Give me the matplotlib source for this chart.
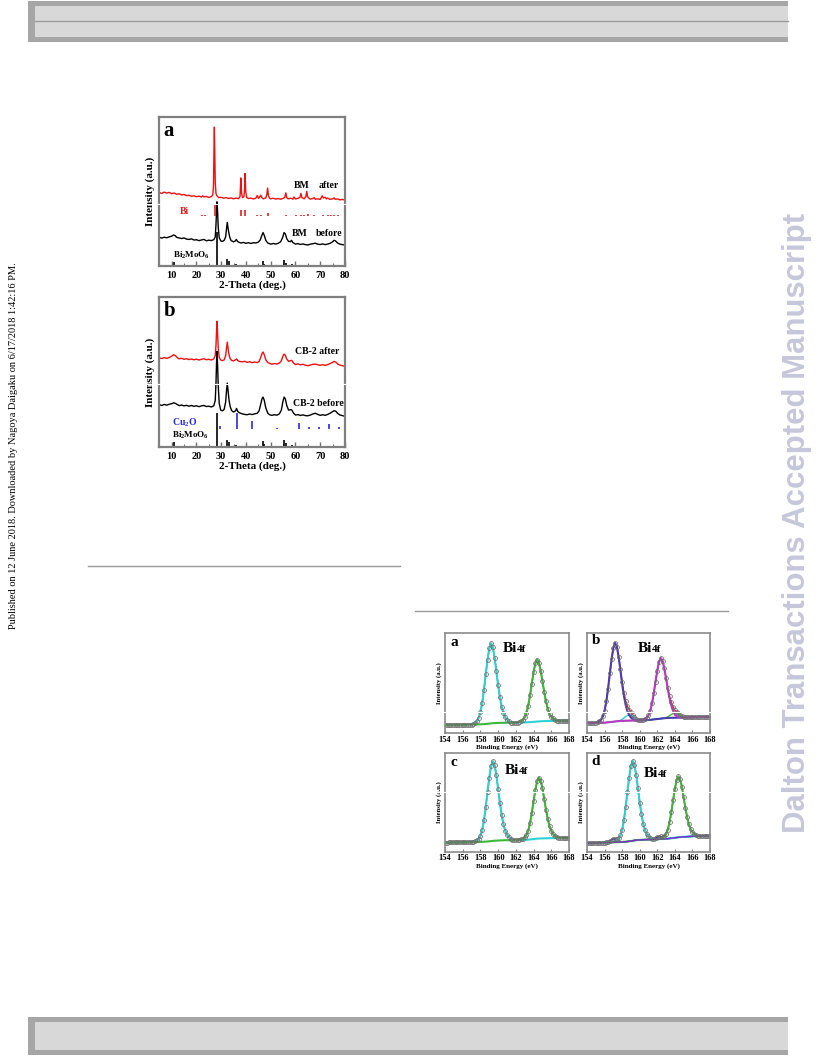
import numpy as np
import matplotlib
matplotlib.use("Agg")
import matplotlib.pyplot as plt
from matplotlib.patches import Rectangle

plt.rcParams['font.family'] = ['Liberation Serif', 'DejaVu Serif']
plt.rcParams['font.weight'] = 'bold'
plt.rcParams['axes.labelweight'] = 'bold'
plt.rcParams['mathtext.fontset'] = 'custom'
plt.rcParams['mathtext.rm'] = 'Liberation Serif:bold'
plt.rcParams['mathtext.it'] = 'Liberation Serif:bold'
plt.rcParams['mathtext.bf'] = 'Liberation Serif:bold'

W, H = 816, 1056

# ---------------- XRD data (arbitrary intensity units) ----------------
x_a_after = [5, 6, 7, 8, 9, 10, 11, 12, 13, 14,
             15, 16, 17, 18, 19, 20, 21, 22, 22.5, 23,
             24, 25, 26, 26.6, 26.9, 27.1, 27.25, 27.4, 27.6, 27.9,
             28.3, 29, 30, 31, 32, 33, 34, 35, 36, 37,
             37.6, 37.95, 38.2, 38.6, 39.2, 39.45, 39.65, 39.9, 40.3, 41,
             42, 43, 44, 44.6, 45.1, 46, 46.5, 47, 48, 48.4,
             48.75, 49.1, 49.6, 50, 51, 52, 53, 54, 55, 55.7,
             56.1, 56.5, 57, 58, 59, 59.4, 60, 61, 61.8, 62.2,
             62.6, 63.5, 64.2, 64.55, 64.9, 65.5, 66, 67, 67.6, 68,
             69, 70, 70.8, 71.3, 72, 72.5, 73, 74, 75, 75.6,
             76, 77, 78, 79, 80]
y_a_after = [49.2, 48.6, 49.5, 48.8, 49.3, 48.4, 48.9, 48.0, 48.4, 47.6,
             47.9, 47.1, 47.4, 46.7, 47.0, 46.4, 46.8, 46.2, 47.0, 46.3,
             46.6, 45.9, 46.5, 47.5, 54.0, 80.0, 93.0, 78.0, 56.0, 48.5,
             47.0, 45.8, 46.0, 45.4, 45.8, 45.2, 45.6, 45.0, 45.5, 45.1,
             46.5, 59.0, 49.0, 45.8, 46.5, 52.0, 62.0, 50.0, 45.9, 45.2,
             45.5, 44.9, 45.4, 47.2, 45.3, 47.4, 45.6, 45.0, 45.6, 47.5,
             52.2, 47.0, 45.3, 45.0, 45.4, 44.8, 45.2, 44.7, 45.3, 46.0,
             49.0, 45.8, 45.0, 45.4, 44.8, 46.2, 44.9, 45.3, 46.0, 48.6,
             45.8, 45.0, 46.5, 50.0, 46.4, 45.3, 44.8, 45.2, 45.8, 44.7,
             45.0, 44.6, 47.0, 45.6, 46.0, 45.0, 45.5, 44.6, 45.0, 45.6,
             44.7, 44.9, 44.3, 44.6, 44.1]

x_a_before = [5, 6, 7, 8, 9, 10, 10.8, 11.5, 12, 13,
              14, 15, 16, 17, 18, 19, 20, 21, 22, 23,
              24, 25, 26, 27, 27.6, 27.9, 28.15, 28.3, 28.5, 28.8,
              29.2, 29.8, 30.5, 31.2, 31.8, 32.15, 32.45, 32.75, 33.1, 33.5,
              34, 35, 35.7, 36.1, 36.6, 37, 38, 39, 40, 41,
              42, 43, 44, 45, 45.8, 46.4, 46.9, 47.4, 48, 48.8,
              49.5, 50, 51, 52, 53, 54, 54.8, 55.4, 55.9, 56.5,
              57.2, 58, 58.4, 59, 60, 61, 62, 63, 64, 65,
              66, 67, 68, 69, 70, 71, 72, 73, 74, 75,
              75.6, 76.2, 77, 78, 79, 80]
y_a_before = [19.2, 18.7, 19.3, 18.9, 19.5, 20.0, 20.8, 20.2, 19.2, 18.8,
              18.4, 18.8, 18.0, 17.8, 18.2, 17.4, 17.6, 17.0, 17.4, 17.8,
              16.9, 17.3, 17.0, 17.6, 19.5, 28.0, 38.0, 43.0, 38.0, 26.0,
              19.0, 16.8, 16.5, 17.2, 19.5, 25.0, 29.2, 25.5, 22.0, 19.0,
              17.0, 16.2, 16.8, 17.8, 16.4, 16.0, 15.4, 15.8, 15.2, 15.6,
              15.1, 15.6, 15.4, 16.0, 17.5, 20.5, 22.4, 20.5, 17.2, 15.4,
              15.0, 14.6, 15.1, 14.7, 15.2, 16.2, 19.0, 22.4, 21.5, 18.2,
              16.5, 16.3, 17.2, 15.6, 14.7, 15.0, 14.4, 14.8, 14.3, 14.1,
              14.6, 14.9, 15.3, 14.6, 14.4, 14.8, 14.3, 14.7, 15.2, 16.2,
              17.2, 16.8, 15.4, 14.6, 14.3, 14.0]

x_b = [5, 6, 7, 8, 9, 10, 10.8, 11.6, 12.5, 13,
       14, 15, 16, 17, 18, 19, 20, 21, 22, 23,
       24, 25, 26, 27, 27.6, 27.9, 28.15, 28.3, 28.5, 28.8,
       29.2, 29.8, 30.5, 31.2, 31.8, 32.15, 32.45, 32.75, 33.1, 33.6,
       34.2, 35, 35.8, 36.2, 36.7, 37.5, 38.5, 39.5, 40.5, 41.5,
       42.5, 43.5, 44.5, 45.3, 45.9, 46.5, 46.9, 47.4, 48, 48.8,
       49.5, 50.5, 51.5, 52.5, 53.5, 54.3, 54.9, 55.4, 55.9, 56.5,
       57.2, 58, 58.5, 59.2, 60, 61, 62, 63, 64, 65,
       66, 67, 68, 69, 70, 71, 72, 73, 74, 75,
       75.6, 76.3, 77, 78, 79, 80]
y_b_after = [59.4, 59.0, 59.6, 59.1, 59.7, 60.6, 61.6, 60.8, 59.3, 58.8,
             59.2, 58.5, 58.9, 58.3, 58.7, 58.2, 58.6, 58.0, 58.5, 58.9,
             58.2, 58.5, 58.0, 58.8, 61.0, 68.0, 79.0, 84.0, 78.0, 66.0,
             60.0, 58.0, 57.6, 58.2, 61.0, 66.0, 70.0, 66.0, 62.0, 59.0,
             57.8, 57.4, 58.2, 58.8, 57.6, 57.0, 56.8, 57.2, 56.4, 56.9,
             56.2, 56.7, 56.3, 57.0, 59.5, 62.5, 63.4, 61.5, 58.2, 56.4,
             55.8, 55.2, 55.7, 55.3, 56.0, 57.5, 60.5, 62.0, 61.2, 58.6,
             57.2, 57.6, 57.8, 56.0, 55.0, 55.4, 54.8, 55.2, 54.5, 54.2,
             54.7, 55.1, 55.3, 54.8, 54.5, 54.9, 54.4, 55.0, 55.6, 56.5,
             57.1, 56.6, 55.4, 54.6, 54.2, 53.7]
y_b_before = [28.1, 27.6, 28.3, 27.8, 28.4, 28.8, 29.4, 28.9, 28.0, 27.5,
              27.9, 27.3, 27.7, 27.1, 27.6, 27.0, 27.4, 26.8, 27.3, 27.6,
              26.9, 27.1, 26.6, 27.4, 31.0, 43.0, 58.0, 63.8, 57.0, 41.0,
              29.0, 24.5, 24.0, 25.0, 30.0, 37.5, 42.6, 38.0, 32.0, 27.0,
              24.2, 23.2, 24.0, 25.6, 23.5, 22.6, 22.0, 21.6, 21.4, 21.9,
              21.5, 22.0, 22.3, 24.0, 28.0, 32.2, 33.2, 31.0, 26.0, 22.5,
              21.4, 21.0, 21.4, 21.1, 22.0, 24.5, 30.0, 33.2, 32.0, 27.5,
              24.5, 24.8, 24.6, 22.5, 21.2, 21.5, 20.9, 21.3, 20.8, 20.7,
              21.2, 21.9, 22.4, 21.6, 21.0, 21.4, 21.0, 21.6, 22.4, 23.5,
              24.1, 23.7, 22.3, 21.2, 20.8, 20.3]

# reference patterns (stick positions / heights)
bi_pos = [22.2, 23.6, 27.3, 37.9, 39.5, 44.6, 46.0, 48.7, 56.1, 60.2,
          62.2, 63.6, 64.9, 67.6, 71.0, 73.0, 74.4, 75.7, 77.1]
bi_h = [0.8, 0.8, 7.5, 4.2, 4.2, 0.8, 0.8, 2.2, 0.8, 0.8,
        0.8, 0.8, 1.4, 0.8, 0.8, 0.8, 0.8, 0.8, 0.8]
bi_base = 33.6
bmo_pos = [10.8, 28.3, 32.5, 33.1, 36.0, 46.8, 47.3, 55.5, 56.1, 58.5, 75.6, 76.4]
bmo_h = [3.0, 22.5, 4.8, 3.2, 1.2, 3.6, 1.5, 4.2, 2.2, 1.2, 0.8, 0.8]
cu_pos = [29.4, 36.5, 42.3, 52.4, 61.3, 65.6, 69.6, 73.5, 77.4]
cu_h = [2.2, 10.9, 5.6, 1.2, 4.5, 1.5, 1.5, 3.6, 1.5]
cu_base = 11.6

# ---------------- XPS Bi4f data ----------------
be = np.round(np.arange(154.0, 168.01, 0.2), 1)

a_bg = [8.0, 8.0, 8.1, 8.1, 8.1, 8.2, 8.2, 8.2, 8.3, 8.3, 8.3, 8.4, 8.4, 8.4, 8.5,
        8.5, 8.5, 8.6, 8.6, 8.7, 8.7, 8.8,
        8.9, 9.0, 9.2, 9.4, 9.6, 9.8, 9.9, 10.0, 10.1, 10.1, 10.2,
        10.2, 10.2, 10.3, 10.3, 10.3, 10.4, 10.4, 10.4, 10.5, 10.5, 10.5, 10.6,
        10.6, 10.7, 10.8, 10.9, 11.0, 11.2, 11.3, 11.5, 11.6, 11.7, 11.8, 11.9, 11.9, 12.0,
        12.0, 12.0, 12.1, 12.1, 12.1, 12.2, 12.2, 12.2, 12.3, 12.3, 12.3, 12.4]
a_p1 = [0.8, 1.6, 3.2, 6.4, 12.0, 21.6, 34.4, 49.6, 64.0, 75.2, 80.0,
        76.0, 65.6, 52.0, 37.6, 25.6, 16.0, 9.6, 5.6, 3.2, 1.6]
a_p2 = [0.6, 1.2, 2.5, 5.0, 9.3, 16.7, 26.7, 38.4, 49.6, 58.3, 62.0,
        58.9, 50.8, 40.3, 29.1, 19.8, 12.4, 7.4, 4.3, 2.5, 1.2]

b_bg = [9.8, 9.9, 9.9, 10.0, 10.0, 10.1, 10.1, 10.2, 10.2, 10.3, 10.3,
        10.5, 10.7, 10.9, 11.1, 11.3, 11.5, 11.7, 11.9, 12.0, 12.1, 12.2,
        12.3, 12.3, 12.4, 12.4, 12.5, 12.5, 12.6, 12.6, 12.7, 12.7, 12.8, 12.8, 12.9, 13.0, 13.2,
        13.4, 13.6, 13.8, 14.0, 14.2, 14.4, 14.6, 14.8, 14.9, 15.0, 15.1,
        15.2, 15.2, 15.3, 15.3, 15.4, 15.4, 15.5, 15.5, 15.6, 15.6, 15.7, 15.7,
        15.8, 15.8, 15.9, 15.9, 16.0, 16.0, 16.1, 16.1, 16.2, 16.2, 16.3]
b_p1 = [0.8, 1.6, 3.1, 6.3, 11.8, 21.2, 33.8, 48.7, 62.8, 73.8, 78.5,
        74.6, 64.4, 51.0, 36.9, 25.1, 15.7, 9.4, 5.5, 3.1, 1.6]
b_p2 = [0.6, 1.2, 2.4, 4.8, 9.1, 16.4, 26.1, 37.6, 48.5, 57.0, 60.6,
        57.6, 49.7, 39.4, 28.5, 19.4, 12.1, 7.0, 3.0, 1.6, 0.8]
b_s1 = [0.2, 0.7, 1.6, 2.8, 4.2, 5.1, 5.5, 5.2, 4.3, 3.1, 1.8, 0.9, 0.3]
b_s2 = [0.2, 0.6, 1.3, 2.3, 3.4, 4.2, 4.5, 4.2, 3.5, 2.4, 1.4, 0.6, 0.2]

c_bg = [9.5, 9.5, 9.6, 9.6, 9.6, 9.7, 9.7, 9.7, 9.8, 9.8, 9.8, 9.9, 9.9, 9.9, 10.0,
        10.0, 10.0, 10.1, 10.1, 10.2, 10.2, 10.3,
        10.4, 10.5, 10.6, 10.8, 11.0, 11.2, 11.4, 11.5, 11.6, 11.7, 11.8,
        11.8, 11.9, 11.9, 11.9, 12.0, 12.0, 12.0, 12.1, 12.1, 12.1, 12.2, 12.2,
        12.3, 12.4, 12.5, 12.7, 12.9, 13.1, 13.3, 13.5, 13.6, 13.7, 13.8, 13.8, 13.9, 13.9,
        13.9, 14.0, 14.0, 14.0, 14.1, 14.1, 14.1, 14.2, 14.2, 14.2, 14.3, 14.3]
c_p1 = [0.8, 1.6, 3.2, 6.4, 12.1, 21.7, 34.6, 49.9, 64.4, 75.7, 80.5,
        76.5, 66.0, 52.3, 37.8, 25.8, 16.1, 9.7, 5.6, 3.2, 1.6]
c_p2 = [0.6, 1.2, 2.5, 4.9, 9.2, 16.6, 26.4, 38.1, 49.2, 57.8, 61.5,
        58.4, 50.4, 40.0, 28.9, 19.7, 12.3, 7.4, 4.3, 2.5, 1.2]

d_bg = [8.8, 8.9, 9.0, 9.0, 9.1, 9.2, 9.2, 9.3, 9.4, 9.4, 9.5, 9.6, 9.6, 9.7, 9.8,
        9.8, 9.9, 10.0, 10.0, 10.1, 10.2, 10.3,
        10.4, 10.6, 10.8, 11.1, 11.4, 11.7, 11.9, 12.1, 12.2, 12.3, 12.4,
        12.5, 12.5, 12.6, 12.7, 12.7, 12.8, 12.9, 12.9, 13.0, 13.1, 13.1, 13.2,
        13.3, 13.5, 13.7, 13.9, 14.1, 14.4, 14.6, 14.8, 15.0, 15.2, 15.3, 15.4, 15.5, 15.6,
        15.7, 15.8, 15.9, 15.9, 16.0, 16.1, 16.1, 16.2, 16.3, 16.3, 16.4, 16.5]
d_p1 = [0.8, 1.6, 3.2, 6.4, 12.1, 21.7, 34.6, 49.9, 64.4, 75.7, 80.5,
        76.5, 66.0, 52.3, 37.8, 25.8, 16.1, 9.7, 5.6, 3.2, 1.6]
d_p2 = [0.6, 1.2, 2.5, 4.9, 9.2, 16.6, 26.4, 38.1, 49.2, 57.8, 61.5,
        58.4, 50.4, 40.0, 28.9, 19.7, 12.3, 7.4, 4.3, 2.5, 1.2]
d_s1 = [0.3, 0.8, 1.6, 2.8, 3.5, 2.8, 1.6, 0.8, 0.3]
d_s2 = [0.2, 0.6, 1.2, 2.0, 2.5, 2.0, 1.2, 0.6, 0.2]


def place(win, start_ev):
    # put a fitted component window onto the full energy grid
    out = np.zeros(len(be))
    i0 = int(round((start_ev - 154.0) / 0.2))
    out[i0:i0 + len(win)] = win
    return out


def box(x0, y0, x1, y1):
    # pixel box (top-left origin) -> figure fraction rect
    return [x0 / W, 1 - y1 / H, (x1 - x0) / W, (y1 - y0) / H]


fig = plt.figure(figsize=(W / 100, H / 100), dpi=100)

# ---------------- page furniture ----------------
page = fig.add_axes([0, 0, 1, 1])
page.set_xlim(0, W)
page.set_ylim(H, 0)
page.axis('off')
page.add_patch(Rectangle((28.3, 0.7), 760, 41.6, fc='#a6a6a6', ec='none'))
page.add_patch(Rectangle((35, 5.7), 753.3, 31.3, fc='#d8d8d8', ec='none'))
page.plot([35, 788.3], [21.3, 21.3], color='#9c9c9c', lw=1.0)
page.add_patch(Rectangle((28.3, 1016.7), 760, 38.6, fc='#a6a6a6', ec='none'))
page.add_patch(Rectangle((35, 1021.7), 753.3, 28.6, fc='#d8d8d8', ec='none'))
page.plot([88, 400], [566, 566], color='#9a9a9a', lw=1.0)
page.plot([415, 728], [611, 611], color='#9a9a9a', lw=1.0)
page.text(14, 446, "Published on 12 June 2018. Downloaded by Nagoya Daigaku on 6/17/2018 1:42:16 PM.",
          rotation=90, ha='center', va='center', fontsize=7.5, fontweight='normal')
page.text(797, 523, "Dalton Transactions Accepted Manuscript", rotation=90,
          ha='center', va='center', fontsize=22.4, fontweight='bold',
          family='Liberation Sans', color='#c7c7db')


# ---------------- XRD panels ----------------
def xrd_axes(rect, letter):
    ax = fig.add_axes(rect)
    ax.set_xlim(5, 80)
    ax.set_ylim(0, 100)
    ax.set_yticks([])
    ax.set_xticks(range(10, 81, 10))
    ax.set_xticks(range(5, 81, 5), minor=True)
    ax.tick_params(axis='x', which='major', direction='in', length=3.5, width=1.0,
                   color='#707070', labelsize=7.5, pad=3.5)
    ax.tick_params(axis='x', which='minor', direction='in', length=2, width=0.8, color='#707070')
    for s in ax.spines.values():
        s.set_color('#7f7f7f')
        s.set_linewidth(1.6)
    ax.set_xlabel('2-Theta (deg.)', fontsize=8, labelpad=0.5)
    ax.set_ylabel('Intensity (a.u.)', fontsize=8, labelpad=3)
    ax.text(6.8, 90.5, letter, fontsize=15, ha='left', va='center')
    return ax


ax = xrd_axes(box(159.3, 116.7, 345, 266), 'a')
ax.plot(x_a_after, y_a_after, color='#f01010', lw=1.0)
ax.plot(x_a_before, y_a_before, color='black', lw=1.0)
ax.vlines(bi_pos, bi_base, np.array(bi_h) + bi_base, color='#e02020', lw=1.2)
ax.vlines(bmo_pos, 0, bmo_h, color='black', lw=1.2)
ax.text(59.2, 53.7, 'BM', fontsize=7, va='center')
ax.text(69.2, 53.7, 'after', fontsize=7, va='center')
ax.text(58.5, 21.5, 'BM', fontsize=7, va='center')
ax.text(68.3, 21.5, 'before', fontsize=7, va='center')
ax.text(13.1, 36.4, 'Bi', fontsize=7, va='center', color='#e02020')
ax.text(10.4, 6.9, r'Bi$_2$MoO$_6$', fontsize=6.5, va='center')

ax = xrd_axes(box(159.3, 297.3, 345, 446.7), 'b')
ax.plot(x_b, y_b_after, color='#f01010', lw=1.0)
ax.plot(x_b, y_b_before, color='black', lw=1.0)
ax.vlines(cu_pos, cu_base, np.array(cu_h) + cu_base, color='#2a2ae0', lw=1.2)
ax.vlines(bmo_pos, 0, bmo_h, color='black', lw=1.2)
ax.text(59.8, 63.8, 'CB-2 after', fontsize=7, va='center')
ax.text(58.8, 29.2, 'CB-2 before', fontsize=7, va='center')
ax.text(10.0, 16.3, r'Cu$_2$O', fontsize=7, va='center', color='#2a2ae0')
ax.text(10.0, 7.6, r'Bi$_2$MoO$_6$', fontsize=6.5, va='center')


# ---------------- XPS panels ----------------
def xps_axes(rect, letter, lx, ly, bx, by):
    ax = fig.add_axes(rect)
    ax.set_xlim(154, 168)
    ax.set_ylim(0, 100)
    ax.set_yticks([])
    ax.set_xticks(range(154, 169, 2))
    ax.tick_params(axis='x', direction='in', length=2, width=0.8, color='#808080',
                   labelsize=6, pad=1.8)
    for s in ax.spines.values():
        s.set_color('#8a8a8a')
        s.set_linewidth(1.2)
    ax.set_xlabel('Binding Energy (eV)', fontsize=5, labelpad=0.5)
    ax.set_ylabel('Intensity (a.u.)', fontsize=4.8, labelpad=2)
    ax.text(lx, ly, letter, fontsize=11, ha='left', va='center')
    ax.text(bx, by, 'Bi', fontsize=11, ha='left', va='baseline')
    ax.annotate('4f', xy=(bx, by), xytext=(10.2, 0), textcoords='offset points',
                fontsize=8, ha='left', va='baseline')
    return ax


def draw_xps(ax, bg, comps, extra_bg=None):
    bg = np.array(bg)
    total = bg.copy()
    parts = []
    for win, start, color, lw in comps:
        p = place(win, start)
        total = total + p
        parts.append((bg + p, color, lw))
    # envelope underneath, fitted components on top, raw points last
    ax.plot(be, total, color='#e02828', lw=1.0)
    for curve, color, lw in parts:
        ax.plot(be, curve, color=color, lw=lw)
    if extra_bg is not None:
        ax.plot(be, bg, color=extra_bg, lw=1.0)
    ax.plot(be, total, 'o', mfc='none', mec='#6e6e6e', ms=2.8, mew=0.55)


cyan = '#2fd2d2'
green = '#3cb83c'

ax = xps_axes(box(445, 633, 569, 733), 'a', 154.6, 90, 160.5, 81)
draw_xps(ax, a_bg, [(a_p1, 157.2, cyan, 1.5), (a_p2, 162.4, green, 1.5)])

ax = xps_axes(box(587, 633, 710, 733), 'b', 154.5, 92, 159.8, 81)
draw_xps(ax, b_bg, [(b_s1, 157.6, cyan, 1.0), (b_s2, 162.8, green, 1.0),
                    (b_p1, 155.2, '#4a3cae', 1.5), (b_p2, 160.4, '#b838c8', 1.5)])

ax = xps_axes(box(445, 753, 569, 852), 'c', 154.6, 90, 160.7, 79)
draw_xps(ax, c_bg, [(c_p1, 157.4, cyan, 1.5), (c_p2, 162.6, green, 1.5)])

ax = xps_axes(box(587, 753, 710, 852), 'd', 154.5, 91, 160.5, 76)
draw_xps(ax, d_bg, [(d_s1, 156.2, '#2a3ad0', 1.0), (d_s2, 161.4, '#2a3ad0', 1.0),
                    (d_p1, 157.2, cyan, 1.5), (d_p2, 162.4, green, 1.5)],
         extra_bg='#7a2ccc')

# thin white scan seams that cross the figure images
seam = fig.add_axes([0, 0, 1, 1])
seam.set_xlim(0, W)
seam.set_ylim(H, 0)
seam.axis('off')
seam.plot([143, 352], [204, 204], color='white', lw=0.8)
seam.plot([143, 352], [384, 384], color='white', lw=0.8)
seam.plot([415, 730], [712, 712], color='white', lw=0.8)
seam.plot([415, 730], [792, 792], color='white', lw=0.8)

fig.savefig('out.png', dpi=100)
